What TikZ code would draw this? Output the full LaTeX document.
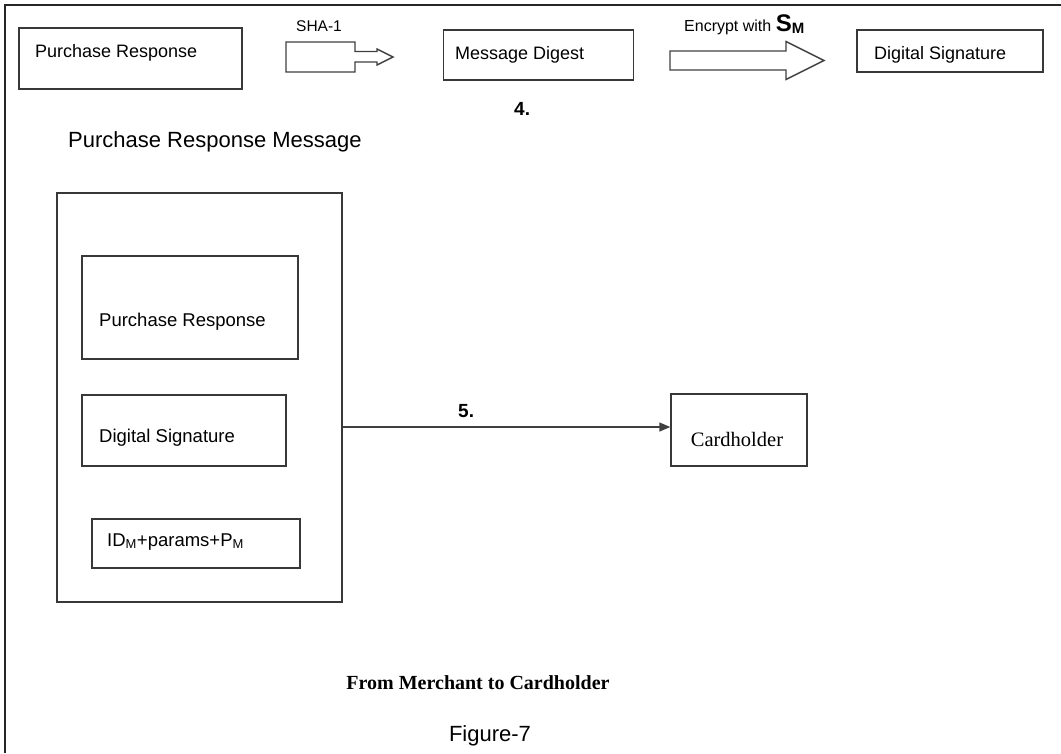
\documentclass[tikz,border=0pt]{standalone}
\usepackage{fontspec}
\setmainfont{Liberation Sans}
\newfontfamily\timesfont{Liberation Serif}
\usetikzlibrary{arrows.meta}

\tikzset{
  box/.style={draw=black!78, line width=1.4pt, inner sep=0pt, fill=white},
  lbl/.style={inner sep=0pt, anchor=base west, text=black},
  ctr/.style={inner sep=0pt, anchor=base, text=black},
  blockarrow/.style={draw=black!75, line width=1.4pt, fill=white, line join=miter},
  conn/.style={draw=black!75, line width=1.4pt, -{Triangle[length=11pt,width=9pt]}},
  frame/.style={draw=black!85, line width=2pt},
}
\newcommand{\fs}[1]{\fontsize{#1}{#1}\selectfont}

\begin{document}
\begin{tikzpicture}[x=1pt, y=-1pt]
\useasboundingbox (0,0) rectangle (1061,753);

% page frame (top and left edges)
\draw[frame] (1061,5) -- (5,5) -- (5,753);

% ---- step 4: hashing and signing ----
\node[box, minimum width=223pt, minimum height=61pt] (pr) at (130.5,58.5) {};
\node[lbl] (prt) at (35,57) {\fs{18}Purchase Response};

\draw[blockarrow] (286,42) -- (355,42) -- (355,51.5) -- (377,51.5) -- (377,49)
  -- (393,57) -- (377,65) -- (377,62) -- (355,62) -- (355,72) -- (286,72) -- cycle;
\node[lbl] (sha) at (296,31) {\fs{15.5}SHA-1};

\node[box, minimum width=190pt, minimum height=50pt] (md) at (538.5,55) {};
\node[lbl] (mdt) at (455,59) {\fs{18}Message Digest};

\node[lbl] (four) at (514,115) {\fs{19}\bfseries 4.};

\draw[blockarrow] (670,51) -- (786,51) -- (786,41.5) -- (824,60.5) -- (786,79.5)
  -- (786,70) -- (670,70) -- cycle;
\node[lbl] (enc) at (684,31) {\fs{16}Encrypt with
  {\fs{24}\bfseries S}\raisebox{-2.5pt}{\fs{15}\bfseries M}};

\node[box, minimum width=186pt, minimum height=42pt] (ds) at (950,51) {};
\node[lbl] (dst) at (874,59) {\fs{18}Digital Signature};

% ---- step 5: the response message ----
\node[lbl] (title) at (68,147) {\fs{22}Purchase Response Message};

\node[box, minimum width=285pt, minimum height=409pt] (msg) at (199.5,397.5) {};

\node[box, minimum width=216pt, minimum height=103pt] (in1) at (190,307.5) {};
\node[lbl] (in1t) at (99,326) {\fs{18.5}Purchase Response};

\node[box, minimum width=204pt, minimum height=71pt] (in2) at (184,430.5) {};
\node[lbl] (in2t) at (99,442) {\fs{18.5}Digital Signature};

\node[box, minimum width=208pt, minimum height=49pt] (in3) at (196,543.5) {};
\node[lbl] (in3t) at (107,546) {\fs{18.5}ID\textsubscript{M}+params+P\textsubscript{M}};

\node[box, minimum width=136pt, minimum height=72pt] (card) at (739,430) {};
\node[ctr] (cardt) at (737,446) {\fs{20.5}\timesfont Cardholder};

\coordinate (lvl) at (0,427);
\draw[conn] (msg.east |- lvl) -- (card.west |- lvl);
\node[lbl] (five) at (458,417) {\fs{19}\bfseries 5.};

% ---- captions ----
\node[ctr] (cap) at (478,689) {\fs{20}\timesfont\bfseries From Merchant to Cardholder};
\node[ctr] (fig) at (490,741) {\fs{22}Figure-7};
\end{tikzpicture}
\end{document}
